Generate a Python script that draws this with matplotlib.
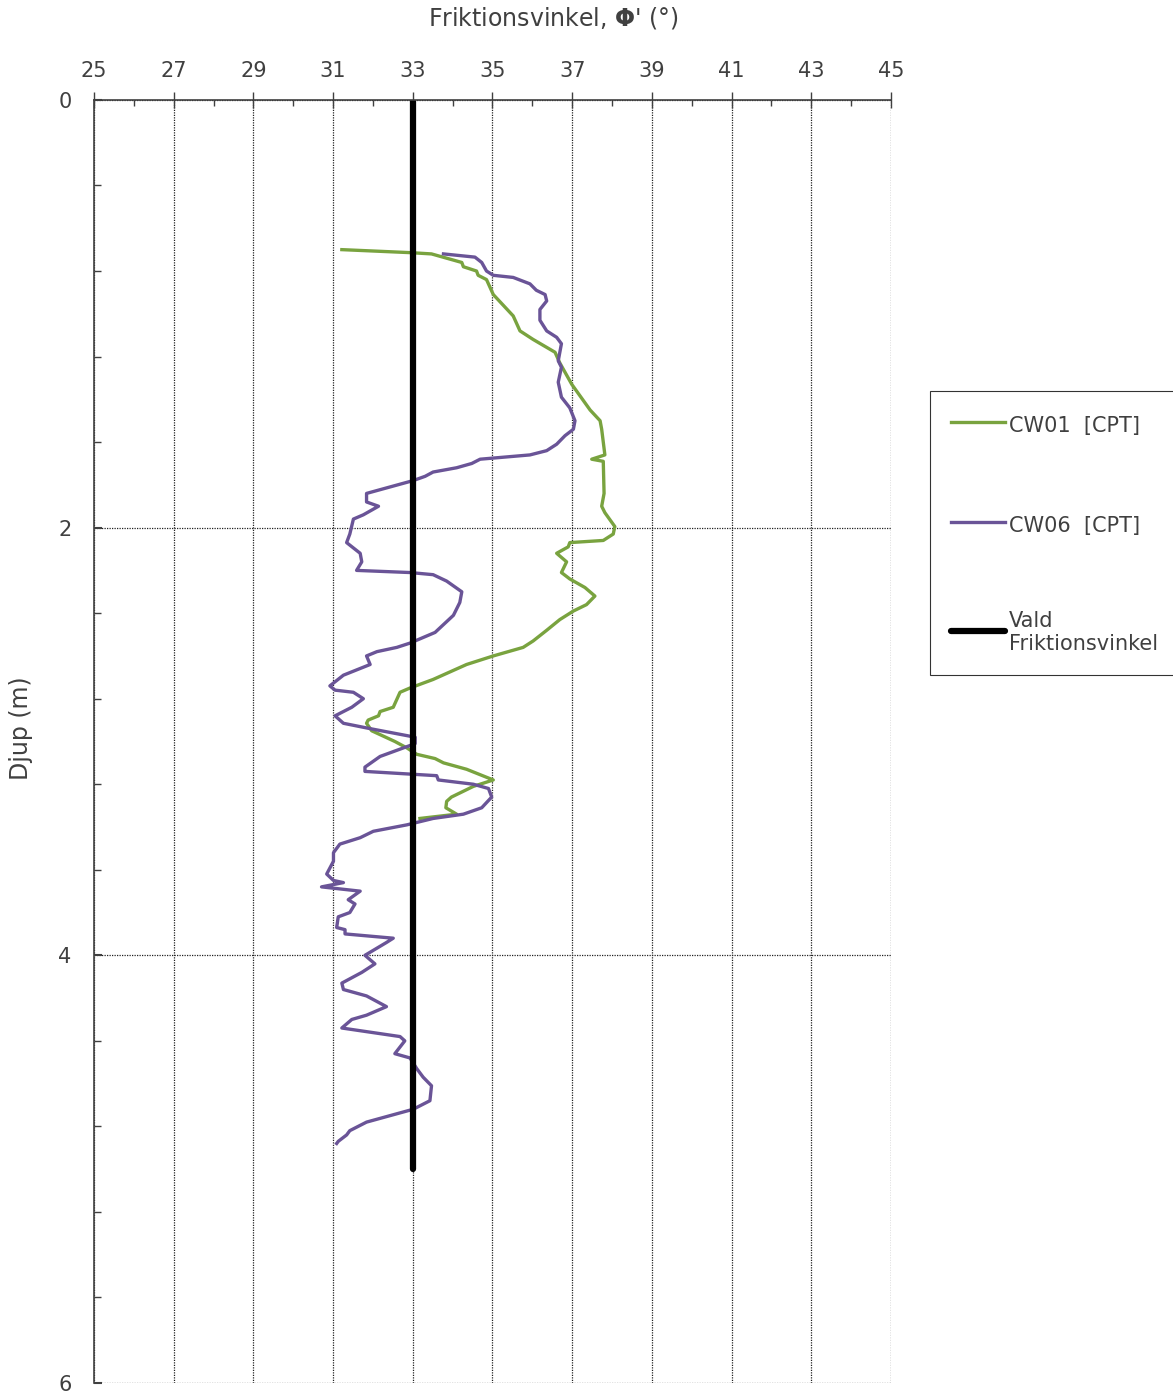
import matplotlib.pyplot as plt
from matplotlib.ticker import MultipleLocator

plt.rcParams.update({
    "font.family": "DejaVu Sans",
    "font.size": 15,
    "text.color": "#404040",
    "axes.labelcolor": "#404040",
    "xtick.color": "#404040",
    "ytick.color": "#404040",
})

# CW01 [CPT] friction angle (deg) vs depth (m)
cw01_phi = [31.22, 32.93, 33.47, 34.23, 34.27, 34.60, 34.64, 34.85, 35.02, 35.27,
            35.52, 35.69, 36.02, 36.57, 36.69, 36.99, 37.45, 37.70, 37.74, 37.82,
            37.49, 37.78, 37.80, 37.74, 37.82, 38.07, 38.03, 37.78, 36.94, 36.90,
            36.61, 36.86, 36.73, 36.94, 37.32, 37.57, 37.36, 37.03, 36.69, 36.36,
            36.02, 35.77, 35.02, 34.35, 33.51, 32.93, 32.68, 32.51, 32.18, 32.14,
            31.88, 31.84, 31.97, 32.55, 32.85, 33.10, 33.56, 33.77, 34.35, 35.02,
            34.52, 33.97, 33.85, 33.83, 34.10, 33.18]
cw01_depth = [0.70, 0.714, 0.72, 0.76, 0.78, 0.80, 0.82, 0.84, 0.91, 0.96,
              1.01, 1.08, 1.12, 1.18, 1.23, 1.33, 1.45, 1.50, 1.54, 1.66,
              1.68, 1.69, 1.84, 1.90, 1.93, 1.995, 2.03, 2.06, 2.07, 2.09,
              2.12, 2.16, 2.21, 2.24, 2.28, 2.32, 2.36, 2.39, 2.43, 2.48,
              2.53, 2.56, 2.60, 2.64, 2.71, 2.75, 2.77, 2.84, 2.86, 2.88,
              2.90, 2.915, 2.95, 3.00, 3.03, 3.06, 3.08, 3.10, 3.13, 3.18,
              3.21, 3.26, 3.28, 3.31, 3.34, 3.36]

# CW06 [CPT]
cw06_phi = [33.77, 34.56, 34.73, 34.85, 35.02, 35.52, 35.94, 36.10, 36.32, 36.36,
            36.19, 36.19, 36.36, 36.61, 36.73, 36.65, 36.73, 36.65, 36.73, 36.94,
            37.07, 37.03, 36.82, 36.61, 36.36, 35.94, 34.69, 34.48, 34.10, 33.51,
            33.31, 33.01, 31.84, 31.84, 32.14, 31.76, 31.51, 31.42, 31.34, 31.68,
            31.72, 31.59, 32.93, 33.51, 33.85, 34.23, 34.18, 34.02, 33.56, 32.93,
            32.60, 32.10, 31.84, 31.93, 31.26, 30.92, 31.05, 31.51, 31.76, 31.47,
            31.05, 31.26, 31.93, 33.06, 33.06, 32.18, 31.80, 31.80, 33.60, 33.64,
            34.52, 34.90, 34.98, 34.73, 34.27, 33.51, 32.85, 32.01, 31.68, 31.17,
            31.01, 31.01, 30.84, 31.01, 31.26, 30.71, 31.68, 31.38, 31.55, 31.42,
            31.13, 31.09, 31.30, 31.30, 32.51, 32.34, 31.80, 32.05, 31.72, 31.22,
            31.26, 31.84, 32.34, 31.84, 31.47, 31.22, 32.68, 32.80, 32.55, 32.93,
            33.10, 33.26, 33.47, 33.43, 33.01, 31.84, 31.42, 31.34, 31.13, 31.09]
cw06_depth = [0.72, 0.735, 0.76, 0.80, 0.82, 0.83, 0.86, 0.89, 0.91, 0.94,
              0.98, 1.03, 1.08, 1.11, 1.14, 1.22, 1.25, 1.32, 1.39, 1.44,
              1.50, 1.54, 1.57, 1.61, 1.64, 1.66, 1.68, 1.70, 1.72, 1.74,
              1.76, 1.78, 1.84, 1.88, 1.90, 1.94, 1.96, 2.03, 2.07, 2.12,
              2.16, 2.20, 2.21, 2.22, 2.25, 2.30, 2.35, 2.41, 2.49, 2.54,
              2.56, 2.58, 2.60, 2.64, 2.69, 2.74, 2.76, 2.77, 2.80, 2.84,
              2.88, 2.915, 2.94, 2.98, 3.01, 3.07, 3.12, 3.14, 3.16, 3.18,
              3.20, 3.22, 3.26, 3.31, 3.34, 3.36, 3.39, 3.42, 3.45, 3.48,
              3.52, 3.56, 3.62, 3.65, 3.66, 3.68, 3.70, 3.74, 3.76, 3.80,
              3.82, 3.87, 3.88, 3.90, 3.92, 3.94, 4.00, 4.04, 4.08, 4.13,
              4.16, 4.19, 4.24, 4.28, 4.30, 4.34, 4.38, 4.40, 4.46, 4.48,
              4.53, 4.57, 4.61, 4.68, 4.72, 4.78, 4.82, 4.84, 4.87, 4.88]

# chosen design value
vald_phi = [33, 33]
vald_depth = [0.0, 5.0]

x_ticks = list(range(25, 46, 2))
y_ticks = [0, 2, 4, 6]

fig = plt.figure(figsize=(11.73, 13.94), dpi=100)
ax = fig.add_axes([0.0801, 0.0079, 0.6795, 0.9204])

l1, = ax.plot(cw01_phi, cw01_depth, color="#79A33F", lw=2.4, label="CW01  [CPT]")
l2, = ax.plot(cw06_phi, cw06_depth, color="#6A5497", lw=2.4, label="CW06  [CPT]")
l3, = ax.plot(vald_phi, vald_depth, color="black", lw=4.5,
              solid_capstyle="round", label="Vald\nFriktionsvinkel")

ax.set_xlim(25, 45)
ax.set_ylim(6, 0)
ax.set_xticks(x_ticks)
ax.set_yticks(y_ticks)
ax.xaxis.set_minor_locator(MultipleLocator(1))
ax.yaxis.set_minor_locator(MultipleLocator(0.4))

ax.xaxis.tick_top()
ax.xaxis.set_label_position("top")
ax.tick_params(axis="x", which="major", direction="inout", length=11, width=1,
               pad=8, labelsize=15, top=True, bottom=False)
ax.tick_params(axis="x", which="minor", direction="in", length=4, width=1,
               top=True, bottom=False)
ax.tick_params(axis="y", which="major", direction="in", length=6, width=1.5,
               pad=16, labelsize=15)
ax.tick_params(axis="y", which="minor", direction="in", length=5, width=1)

ax.grid(True, which="major", color="#222222", linestyle=(0, (1, 1)), linewidth=0.9)
ax.set_axisbelow(True)
for side in ("right", "bottom"):
    ax.spines[side].set_visible(False)
for side in ("left", "top"):
    ax.spines[side].set_color("#404040")
    ax.spines[side].set_linewidth(1.2)

ax.set_xlabel("Friktionsvinkel, $\\mathbf{\\Phi}$' (°)", fontsize=17)
ax.xaxis.set_label_coords(0.576, 1.058)
ax.set_ylabel("Djup (m)", fontsize=17)
ax.yaxis.set_label_coords(-0.077, 0.51)

leg = fig.legend(handles=[l1, l2, l3], loc="upper left",
                 bbox_to_anchor=(0.7928, 0.7195), frameon=True, fancybox=False,
                 edgecolor="black", fontsize=15, handlelength=2.6,
                 handleheight=1.6, handletextpad=0.2, labelspacing=3.5,
                 borderpad=1.0, borderaxespad=0)
leg.get_frame().set_linewidth(0.8)

fig.savefig("out.png", dpi=100)
